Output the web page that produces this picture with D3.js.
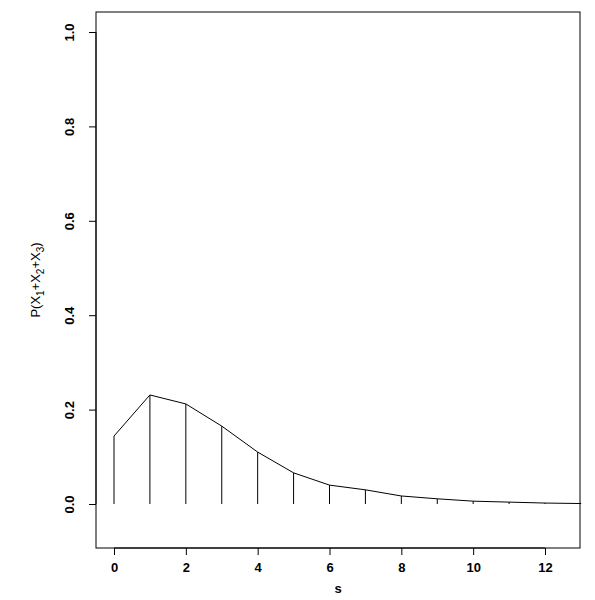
<!DOCTYPE html>
<html><head><meta charset="utf-8">
<script src="https://cdn.jsdelivr.net/npm/d3@7"></script>
<style>body{margin:0;background:#fff}text{font-family:"Liberation Sans",Arial,sans-serif;font-size:13px;font-weight:bold;fill:#000}</style>
</head><body><svg id="c" width="595" height="600"></svg>
<script>
const sValues=[0,1,2,3,4,5,6,7,8,9,10,11,12,13];
const probs=[0.144,0.231,0.212,0.165,0.110,0.066,0.040,0.030,0.017,0.011,0.006,0.004,0.002,0.001];
const xTicks=[0,2,4,6,8,10,12];
const yTicks=[0,0.2,0.4,0.6,0.8,1.0];
const svg=d3.select("#c");
const x=d3.scaleLinear().domain([0,12]).range([114,545]);
const y=d3.scaleLinear().domain([0,1]).range([504,32]);
svg.append("rect").attr("x",96).attr("y",12).attr("width",484).attr("height",536).attr("fill","none").attr("stroke","#000");
const xa=svg.append("g").attr("transform","translate(0,548)").call(d3.axisBottom(x).tickValues(xTicks).tickFormat(d3.format("d")).tickSize(7).tickPadding(8));
xa.select(".domain").attr("d",`M${x(0)},0H${x(12)}`);
const ya=svg.append("g").attr("transform","translate(96,0)").call(d3.axisLeft(y).tickValues(yTicks).tickFormat(d3.format(".1f")).tickSize(7).tickSizeOuter(0));
ya.select(".domain").attr("d",`M0,${y(0)}V${y(1)}`);
ya.selectAll(".tick text").attr("text-anchor","middle").attr("transform","rotate(-90)").attr("x",0).attr("y",-22).attr("dy","0");
svg.selectAll("text").style("font-size","13px").style("font-weight","bold").style("font-family",'"Liberation Sans",Arial,sans-serif');
svg.selectAll(".hl").data(sValues).enter().append("line").attr("x1",d=>x(d)).attr("x2",d=>x(d)).attr("y1",y(0)).attr("y2",(d,i)=>y(probs[i])).attr("stroke","#000");
svg.append("path").datum(sValues).attr("fill","none").attr("stroke","#000").attr("d",d3.line().x(d=>x(d)).y((d,i)=>y(probs[i])));
svg.append("text").attr("x",338).attr("y",593).attr("text-anchor","middle").text("s");
const yl=svg.append("text").attr("transform","translate(40,280) rotate(-90)").attr("text-anchor","middle").style("font-weight","normal");
yl.append("tspan").text("P(X");yl.append("tspan").attr("font-size","10px").attr("dy",4).text("1");
yl.append("tspan").attr("dy",-4).text("+X");yl.append("tspan").attr("font-size","10px").attr("dy",4).text("2");
yl.append("tspan").attr("dy",-4).text("+X");yl.append("tspan").attr("font-size","10px").attr("dy",4).text("3");
yl.append("tspan").attr("dy",-4).text(")");
</script></body></html>
